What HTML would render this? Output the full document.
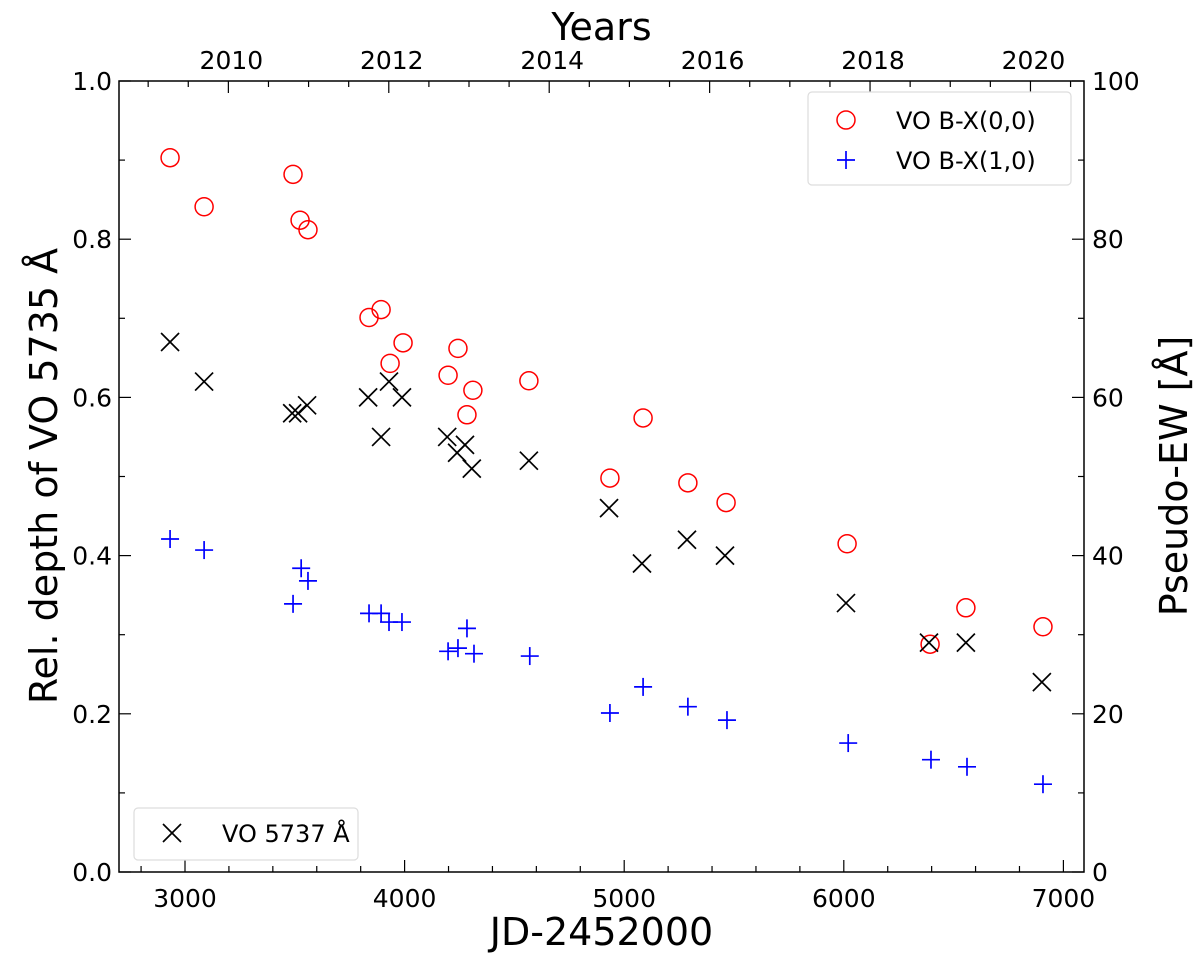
<!DOCTYPE html>
<html><head><meta charset="utf-8"><style>
body{margin:0;background:#fff}
svg{display:block;font-family:"DejaVu Sans","Liberation Sans",sans-serif}
</style></head><body>
<svg id="chart" width="1200" height="958" viewBox="0 0 1200 958"></svg>
<script>
const circJD=[2932,3087,3492,3524,3560,3838,3893,3934,3993,4198,4243,4284,4311,4566,4935,5086,5290,5464,6015,6393,6556,6907];
const circVal=[0.903,0.841,0.882,0.824,0.812,0.701,0.711,0.643,0.669,0.628,0.662,0.578,0.609,0.621,0.498,0.574,0.492,0.467,0.415,0.288,0.334,0.310];
const crossJD=[2932,3087,3488,3515,3556,3834,3893,3929,3988,4194,4239,4275,4306,4566,4931,5081,5286,5459,6010,6388,6556,6902];
const crossVal=[0.67,0.62,0.58,0.58,0.59,0.60,0.55,0.62,0.60,0.55,0.53,0.54,0.51,0.52,0.46,0.39,0.42,0.40,0.34,0.29,0.29,0.24];
const plusJD=[2932,3087,3492,3529,3560,3838,3893,3929,3988,4198,4243,4284,4316,4570,4935,5086,5290,5468,6020,6397,6561,6907];
const plusEW=[42.1,40.7,33.9,38.4,36.8,32.7,32.7,31.6,31.6,27.9,28.3,30.8,27.6,27.3,20.1,23.4,20.9,19.2,16.3,14.2,13.3,11.1];
const xTicks=[3000,4000,5000,6000,7000];
const yTicks=[0,0.2,0.4,0.6,0.8,1.0];
const yRTicks=[0,20,40,60,80,100];
const yearTicks=[2010,2012,2014,2016,2018,2020];

const L=119,R=1084,T=81,B=872;
const X=v=>185+(v-3000)*0.2196;
const Y=v=>B-v*(B-T);
const YR=v=>Y(v/100);
const yearJD=y=>3197.5+(y-2010)*365.25;
const NS="http://www.w3.org/2000/svg";
const svg=document.getElementById('chart');
function mk(tag,attrs,parent){const e=document.createElementNS(NS,tag);for(const k in attrs)e.setAttribute(k,attrs[k]);(parent||svg).appendChild(e);return e;}
function txt(s,attrs){const e=mk('text',attrs);e.textContent=s;return e;}

const fr=mk('rect',{x:L,y:T,width:R-L,height:B-T,fill:'none',stroke:'#000','stroke-width':1.5});



function line(x1,y1,x2,y2){mk('line',{x1,y1,x2,y2,stroke:'#000','stroke-width':1.2});}
for(let v=2800;v<=7000;v+=200){const x=X(v);const maj=v%1000===0;line(x,B,x,B-(maj?12:6));}
xTicks.forEach(v=>{const t=txt(String(v),{x:X(v),y:B+35,'font-size':25,'text-anchor':'middle'});

});
for(let y=2009;y<=2020.75;y+=0.5){const x=X(yearJD(y));if(x<L||x>R)continue;const maj=(y%2===0);line(x,T,x,T+(maj?12:6));}
yearTicks.forEach(y=>{const t=txt(String(y),{x:X(yearJD(y))+3,y:T-12,'font-size':25,'text-anchor':'middle'});

});
for(let i=0;i<=10;i++){const v=i/10;const y=Y(v);line(L,y,L+(i%2===0?12:6),y);}
yTicks.forEach(v=>{const t=txt(v.toFixed(1),{x:L-7,y:Y(v)+9,'font-size':25,'text-anchor':'end'});

});
for(let v=0;v<=100;v+=10){const y=YR(v);line(R,y,R-(v%20===0?12:6),y);}
yRTicks.forEach(v=>{const t=txt(String(v),{x:R+8,y:YR(v)+9,'font-size':25,'text-anchor':'start'});

});

let a=txt('JD-2452000',{x:(L+R)/2,y:945,'font-size':38,'text-anchor':'middle'});

a=txt('Years',{x:(L+R)/2,y:40,'font-size':38,'text-anchor':'middle'});

a=txt('Rel. depth of VO 5735 Å',{x:0,y:0,'font-size':38,'text-anchor':'middle',transform:'translate(57,476) rotate(-90)'});

a=txt('Pseudo-EW [Å]',{x:0,y:0,'font-size':38,'text-anchor':'middle',transform:'translate(1187,476) rotate(-90)'});


function circle(x,y){return mk('circle',{cx:x,cy:y,r:9,fill:'none',stroke:'#f00','stroke-width':1.5});}
function cross(x,y){const g=mk('g',{stroke:'#000','stroke-width':1.7});mk('line',{x1:x-9,y1:y-9,x2:x+9,y2:y+9},g);mk('line',{x1:x-9,y1:y+9,x2:x+9,y2:y-9},g);return g;}
function plus(x,y){const g=mk('g',{stroke:'#00f','stroke-width':1.7});mk('line',{x1:x-9,y1:y,x2:x+9,y2:y},g);mk('line',{x1:x,y1:y-9,x2:x,y2:y+9},g);return g;}
circJD.forEach((j,i)=>{const e=circle(X(j),Y(circVal[i]));

});
crossJD.forEach((j,i)=>{const e=cross(X(j),Y(crossVal[i]));

});
plusJD.forEach((j,i)=>{const e=plus(X(j),YR(plusEW[i]));

});

let lg=mk('rect',{x:808,y:92,width:263,height:93,rx:4,fill:'#fff',stroke:'#ddd','stroke-width':1.2});

let e=circle(846,120);
e=txt('VO B-X(0,0)',{x:896,y:129,'font-size':24});
e=plus(846,160);
e=txt('VO B-X(1,0)',{x:896,y:169,'font-size':24});
lg=mk('rect',{x:134,y:808,width:224,height:52,rx:4,fill:'#fff',stroke:'#ddd','stroke-width':1.2});

e=cross(172,833);
e=txt('VO 5737 Å',{x:222,y:842,'font-size':24});
</script>
</body></html>
